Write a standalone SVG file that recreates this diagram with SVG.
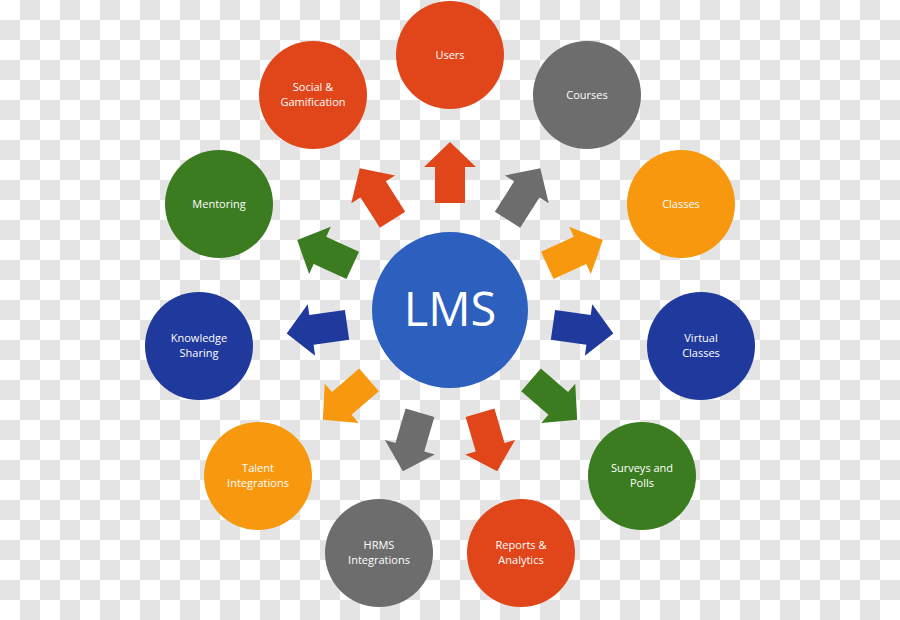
<svg xmlns="http://www.w3.org/2000/svg" width="900" height="620" viewBox="0 0 900 620">
  <defs>
    <pattern id="checker" x="0" y="0" width="40" height="40" patternUnits="userSpaceOnUse">
      <rect x="0" y="0" width="40" height="40" fill="#ffffff"/>
      <rect x="20" y="0" width="20" height="20" fill="#e4e4e4"/>
      <rect x="0" y="20" width="20" height="20" fill="#e4e4e4"/>
    </pattern>
    <path id="arrow" d="M0,-15 L36,-15 L36,-26 L61,0 L36,26 L36,15 L0,15 Z"/>
  </defs>
  <style>
    .lbl { font-family: "Open Sans", "Liberation Sans", sans-serif; font-size: 11px; fill: #ffffff; text-anchor: middle; }
    .big { font-family: "Open Sans", "Liberation Sans", sans-serif; font-size: 47px; fill: #ffffff; text-anchor: middle; }
    .red { fill: #e1461a; }
    .gray { fill: #6d6d6d; }
    .orange { fill: #f7980f; }
    .navy { fill: #20399c; }
    .green { fill: #3b7c20; }
    .blue { fill: #2c5fbe; }
  </style>
  <rect id="background" x="0" y="0" width="900" height="620" fill="url(#checker)"/>

  <g id="connectors">
    <use href="#arrow" class="red" transform="translate(450 310) rotate(-122.5) translate(107 0)"/>
    <use href="#arrow" class="red" transform="translate(450 310) rotate(-90) translate(107 0)"/>
    <use href="#arrow" class="gray" transform="translate(450 310) rotate(-57.5) translate(107 0)"/>
    <use href="#arrow" class="orange" transform="translate(450 310) rotate(-24.6) translate(107 0)"/>
    <use href="#arrow" class="navy" transform="translate(450 310) rotate(8.2) translate(104 0)"/>
    <use href="#arrow" class="green" transform="translate(450 310) rotate(40.8) translate(107 0)"/>
    <use href="#arrow" class="red" transform="translate(450 310) rotate(73.7) translate(107 0)"/>
    <use href="#arrow" class="gray" transform="translate(450 310) rotate(106.3) translate(107 0)"/>
    <use href="#arrow" class="orange" transform="translate(450 310) rotate(139.2) translate(107 0)"/>
    <use href="#arrow" class="navy" transform="translate(450 310) rotate(171.8) translate(104 0)"/>
    <use href="#arrow" class="green" transform="translate(450 310) rotate(-155.4) translate(107 0)"/>
  </g>

  <g id="lms">
    <circle cx="450" cy="310" r="78" class="blue"/>
    <text x="450" y="326" class="big">LMS</text>
  </g>
  <g id="users">
    <circle cx="450" cy="55" r="54" class="red"/>
    <text x="450" y="59" class="lbl">Users</text>
  </g>
  <g id="courses">
    <circle cx="587" cy="95" r="54" class="gray"/>
    <text x="587" y="99" class="lbl">Courses</text>
  </g>
  <g id="classes">
    <circle cx="681" cy="204" r="54" class="orange"/>
    <text x="681" y="208" class="lbl">Classes</text>
  </g>
  <g id="virtual-classes">
    <circle cx="701" cy="346" r="54" class="navy"/>
    <text x="701" y="342" class="lbl">Virtual</text>
    <text x="701" y="357" class="lbl">Classes</text>
  </g>
  <g id="surveys-polls">
    <circle cx="642" cy="476" r="54" class="green"/>
    <text x="642" y="472" class="lbl">Surveys and</text>
    <text x="642" y="487" class="lbl">Polls</text>
  </g>
  <g id="reports-analytics">
    <circle cx="521" cy="553" r="54" class="red"/>
    <text x="521" y="549" class="lbl">Reports &amp;</text>
    <text x="521" y="564" class="lbl">Analytics</text>
  </g>
  <g id="hrms-integrations">
    <circle cx="379" cy="553" r="54" class="gray"/>
    <text x="379" y="549" class="lbl">HRMS</text>
    <text x="379" y="564" class="lbl">Integrations</text>
  </g>
  <g id="talent-integrations">
    <circle cx="258" cy="476" r="54" class="orange"/>
    <text x="258" y="472" class="lbl">Talent</text>
    <text x="258" y="487" class="lbl">Integrations</text>
  </g>
  <g id="knowledge-sharing">
    <circle cx="199" cy="346" r="54" class="navy"/>
    <text x="199" y="342" class="lbl">Knowledge</text>
    <text x="199" y="357" class="lbl">Sharing</text>
  </g>
  <g id="mentoring">
    <circle cx="219" cy="204" r="54" class="green"/>
    <text x="219" y="208" class="lbl">Mentoring</text>
  </g>
  <g id="social-gamification">
    <circle cx="313" cy="95" r="54" class="red"/>
    <text x="313" y="91" class="lbl">Social &amp;</text>
    <text x="313" y="106" class="lbl">Gamification</text>
  </g>
</svg>
